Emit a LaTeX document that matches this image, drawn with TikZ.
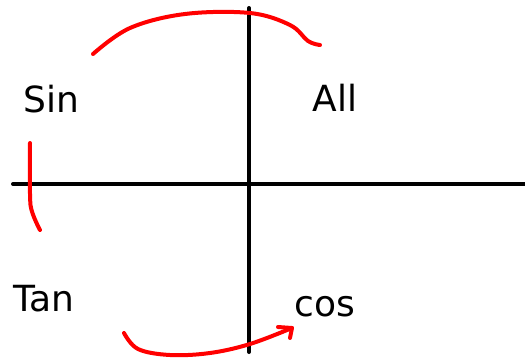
\documentclass[tikz,border=0pt]{standalone}
\usepackage{fontspec}
\setmainfont{DejaVu Sans}
\begin{document}
\begin{tikzpicture}[x=1pt,y=-1pt,
  axis/.style={line width=4pt,line cap=round,black},
  redline/.style={line width=4pt,line cap=round,line join=round,red},
  lbl/.style={anchor=base,inner sep=0pt,font=\fontsize{36}{42}\selectfont}]
\useasboundingbox (0,0) rectangle (525,360);
\coordinate (vt) at (249,8);
\coordinate (vb) at (249,352);
\coordinate (hl) at (13,184);
\coordinate (hr) at (525,184);
\draw[axis] (vt) -- (vb);
\draw[axis] (hl) -- (hr);
\node[lbl] (sin) at (51,112) {Sin};
\node[lbl] (all) at (335,111) {All};
\node[lbl] (tan) at (44,311) {Tan};
\node[lbl] (cos) at (325,316) {cos};
\draw[redline] plot[smooth,tension=0.6] coordinates {(93,54) (130,28) (185,14) (250,13) (290,25) (308,41) (320,45)};
\draw[redline] plot[smooth,tension=0.4] coordinates {(30,143) (30.5,205) (40,230)};
\draw[redline] plot[smooth,tension=0.6] coordinates {(124,333) (138,349) (170,355) (210,353) (250,344) (292,328)};
\coordinate (tip) at (292,328);
\draw[redline] (278,327) -- (tip) -- (290,338);
\end{tikzpicture}
\end{document}
